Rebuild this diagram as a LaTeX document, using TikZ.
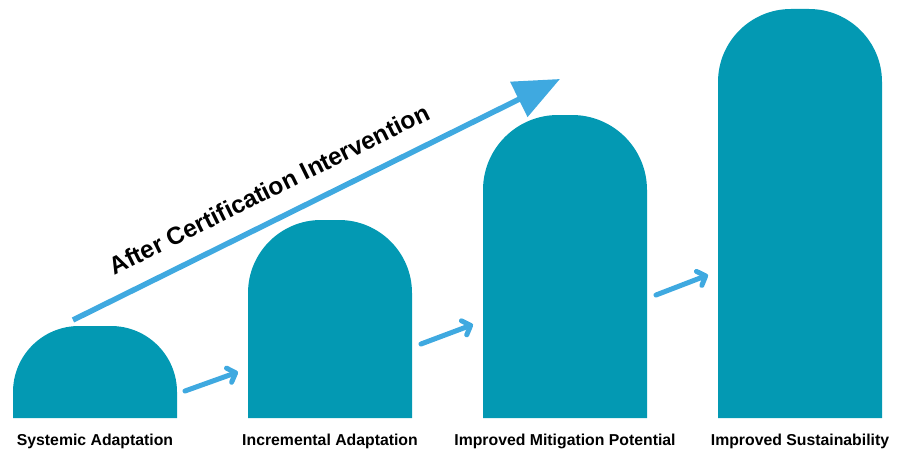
\documentclass[tikz,border=0pt]{standalone}
\usepackage{fontspec}
\setmainfont{Liberation Sans}
\usetikzlibrary{arrows.meta}
\definecolor{pillar}{HTML}{0399B3}
\definecolor{flow}{HTML}{3FA9E0}
% pillar with rounded top: left x, right x, top y, corner radius (base at y=418)
\newcommand\drawpillar[4]{%
  \fill[pillar] (#1,418) -- (#1,#3+#4)
    arc[start angle=180,end angle=270,radius=#4] -- (#2-#4,#3)
    arc[start angle=270,end angle=360,radius=#4] -- (#2,418) -- cycle;}
\begin{document}
\begin{tikzpicture}[x=1pt,y=-1pt,
  steparrow/.style={draw=flow, line width=5pt, line cap=round,
    -{Straight Barb[length=7pt,width=15pt,round]}},
  bigarrow/.style={draw=flow, line width=5.5pt,
    -{Triangle[length=46pt,width=38pt]}},
  caption/.style={font=\bfseries\fontsize{15.8}{18}\selectfont,
    anchor=base, inner sep=0pt},
  headline/.style={font=\bfseries\fontsize{24.5}{28}\selectfont,
    anchor=base, inner sep=0pt, rotate=26.33}]
\useasboundingbox (0,0) rectangle (902,452);

% the four pillars
\drawpillar{13}{177}{326}{66}
\drawpillar{248}{412}{220}{73}
\drawpillar{483}{647}{115}{75}
\drawpillar{718}{882}{9}{73}

% captions
\node[caption] (lab1) at (95,445) {Systemic Adaptation};
\node[caption] (lab2) at (330,445) {Incremental Adaptation};
\node[caption] (lab3) at (565,445) {Improved Mitigation Potential};
\node[caption] (lab4) at (800,445) {Improved Sustainability};

% arrow ends
\coordinate (s1) at (185,391);   \coordinate (e1) at (238,372);
\coordinate (s2) at (421,344);   \coordinate (e2) at (473,324.5);
\coordinate (s3) at (656,295);   \coordinate (e3) at (708,275);
\coordinate (bs) at (73,320);    \coordinate (be) at (560,79);

% step arrows between pillars
\draw[steparrow] (s1) -- (e1);
\draw[steparrow] (s2) -- (e2);
\draw[steparrow] (s3) -- (e3);

% overall trend arrow
\draw[bigarrow] (bs) -- (be);
\node[headline] (trend) at (273,197) {After Certification Intervention};
\end{tikzpicture}
\end{document}
